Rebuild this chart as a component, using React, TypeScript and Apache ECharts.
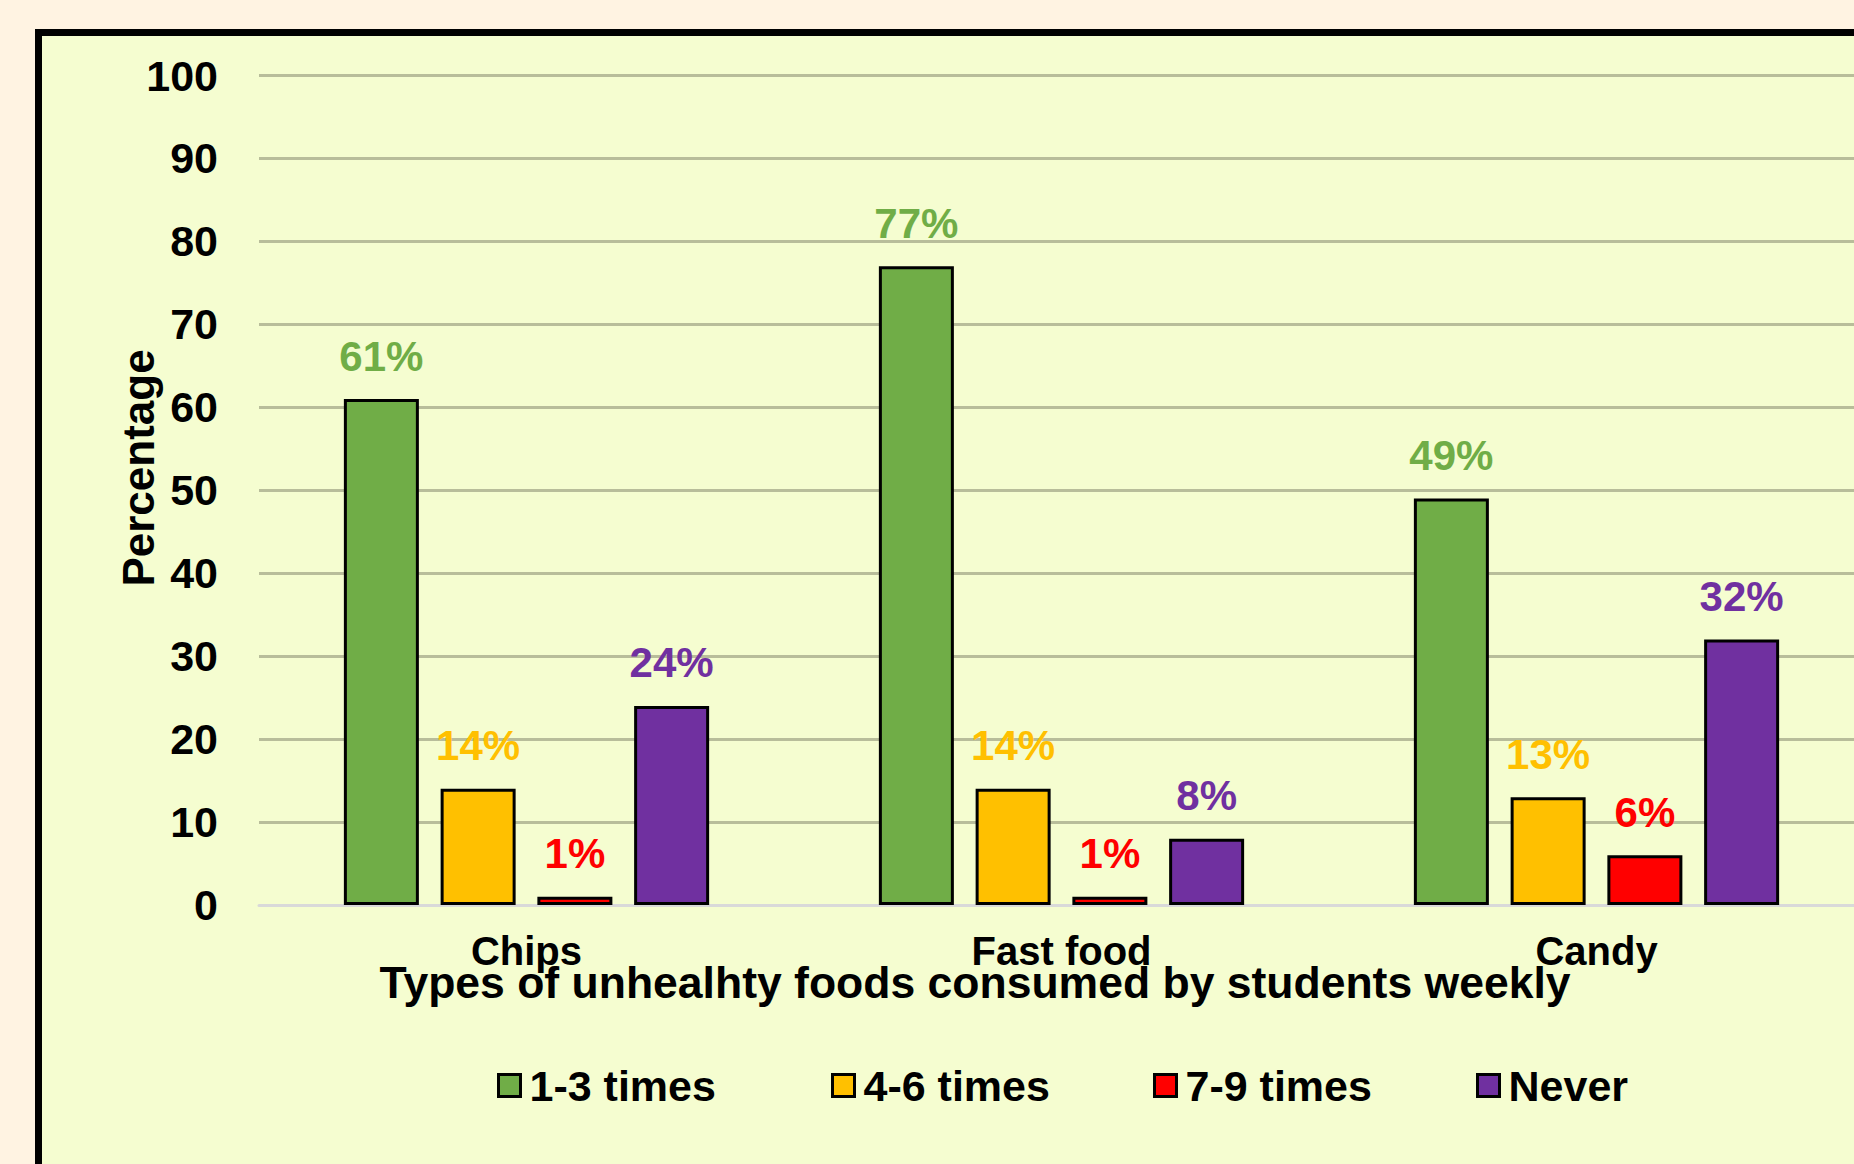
import React, { useEffect, useRef } from "react";
import * as echarts from "echarts";

const categories = ["Chips", "Fast food", "Candy"];
const seriesNames = ["1-3 times", "4-6 times", "7-9 times", "Never"];
const times1to3 = [61, 77, 49];
const times4to6 = [14, 14, 13];
const times7to9 = [1, 1, 6];
const neverValues = [24, 8, 32];
const seriesValues = [times1to3, times4to6, times7to9, neverValues];
const seriesColors = ["#70AD47", "#FFC000", "#FF0000", "#7030A0"];
const yAxisTitle = "Percentage";
const xAxisTitle = "Types of unhealhty foods consumed by students weekly";

const FONT = '"Liberation Sans", Arial, Helvetica, sans-serif';
const legendLefts = [497, 831, 1153, 1476];

export default function App() {
  const ref = useRef<HTMLDivElement>(null);
  useEffect(() => {
    if (!ref.current) return;
    const chart = echarts.init(ref.current, null, { renderer: "svg" });
    chart.setOption({
      animation: false,
      backgroundColor: "transparent",
      textStyle: { fontFamily: FONT },
      grid: { left: 259, top: 75.5, width: 1605, height: 829.5, outerBoundsMode: "none", containLabel: false },
      legend: seriesNames.map((n, i) => ({
        data: [n],
        left: legendLefts[i],
        top: 1064,
        padding: 0,
        icon: "rect",
        itemWidth: 22,
        itemHeight: 22,
        itemGap: 0,
        itemStyle: { borderColor: "#000", borderWidth: 3 },
        textStyle: { fontFamily: FONT, fontSize: 43, fontWeight: "bold", color: "#000", padding: [0, 0, 0, 4] },
      })),
      xAxis: {
        type: "category",
        data: categories,
        axisTick: { show: false },
        axisLine: { lineStyle: { color: "#D9D9D9", width: 3 } },
        axisLabel: { fontFamily: FONT, fontSize: 40, fontWeight: "bold", color: "#000", margin: 26 },
        splitLine: { show: false },
      },
      yAxis: {
        type: "value",
        min: 0,
        max: 100,
        interval: 10,
        axisLine: { show: false },
        axisTick: { show: false },
        splitLine: { lineStyle: { color: "#B8BD9A", width: 3 } },
        axisLabel: { fontFamily: FONT, fontSize: 43, fontWeight: "bold", color: "#000", margin: 41 },
      },
      graphic: [
        {
          type: "text",
          x: 138,
          y: 468,
          rotation: Math.PI / 2,
          style: {
            text: yAxisTitle,
            font: `bold 44px ${FONT}`,
            fill: "#000",
            textAlign: "center",
            textVerticalAlign: "middle",
          },
        },
        {
          type: "text",
          x: 975,
          y: 982,
          style: {
            text: xAxisTitle,
            font: `bold 44.5px ${FONT}`,
            fill: "#000",
            textAlign: "center",
            textVerticalAlign: "middle",
          },
        },
      ],
      series: seriesNames.map((name, i) => ({
        name,
        type: "bar",
        data: seriesValues[i],
        barWidth: 75,
        barGap: "29%",
        itemStyle: { color: seriesColors[i], borderColor: "#000", borderWidth: 3 },
        label: {
          show: true,
          position: "top",
          distance: 22,
          formatter: "{c}%",
          fontFamily: FONT,
          fontSize: 42,
          fontWeight: "bold",
          color: seriesColors[i],
        },
      })),
    });
    return () => chart.dispose();
  }, []);

  return (
    <div style={{ position: "fixed", left: 0, top: 0, width: 1854, height: 1164, background: "#FFF3E2", overflow: "hidden" }}>
      <div
        style={{
          position: "absolute",
          left: 35,
          top: 29,
          width: 3000,
          height: 3000,
          border: "7px solid #000",
          background: "#F5FDD0",
        }}
      />
      <div ref={ref} style={{ position: "absolute", left: 0, top: 0, width: 1960, height: 1164 }} />
    </div>
  );
}
